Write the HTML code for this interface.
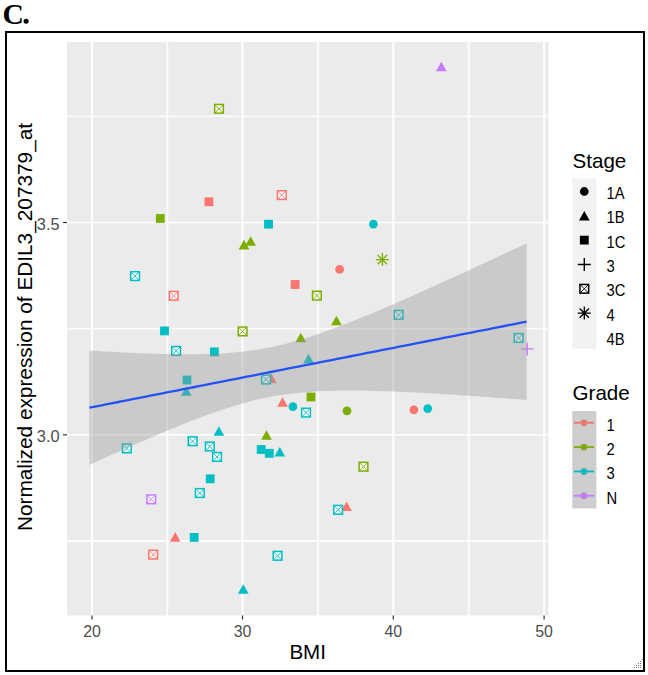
<!DOCTYPE html>
<html><head><meta charset="utf-8"><style>
html,body{margin:0;padding:0;background:#fff;width:648px;height:675px;overflow:hidden}
svg{display:block}
text{font-family:"Liberation Sans",sans-serif}
.tk{font-size:16.4px;fill:#4D4D4D}
.ti{font-size:20.6px;fill:#000}
.lg{font-size:16.4px;fill:#000}
.C{font-family:"Liberation Serif",serif;font-weight:bold;font-size:29px;fill:#000}
</style></head><body>
<svg width="648" height="675" viewBox="0 0 648 675">
<rect x="67" y="42" width="481.5" height="573.5" fill="#EBEBEB"/>
<line x1="167.3" y1="42" x2="167.3" y2="615.5" stroke="#FCFCFC" stroke-width="1.9"/>
<line x1="318" y1="42" x2="318" y2="615.5" stroke="#FCFCFC" stroke-width="1.9"/>
<line x1="468.7" y1="42" x2="468.7" y2="615.5" stroke="#FCFCFC" stroke-width="1.9"/>
<line x1="67" y1="541" x2="548.5" y2="541" stroke="#FCFCFC" stroke-width="1.8"/>
<line x1="67" y1="328.6" x2="548.5" y2="328.6" stroke="#FCFCFC" stroke-width="1.8"/>
<line x1="67" y1="116.3" x2="548.5" y2="116.3" stroke="#FCFCFC" stroke-width="1.8"/>
<line x1="92" y1="42" x2="92" y2="615.5" stroke="#FFFFFF" stroke-width="2"/>
<line x1="242.5" y1="42" x2="242.5" y2="615.5" stroke="#FFFFFF" stroke-width="2"/>
<line x1="393.3" y1="42" x2="393.3" y2="615.5" stroke="#FFFFFF" stroke-width="2"/>
<line x1="544.1" y1="42" x2="544.1" y2="615.5" stroke="#FFFFFF" stroke-width="2"/>
<line x1="67" y1="434.8" x2="548.5" y2="434.8" stroke="#FFFFFF" stroke-width="1.6"/>
<line x1="67" y1="222.5" x2="548.5" y2="222.5" stroke="#FFFFFF" stroke-width="1.6"/>
<polygon points="441.35,61.70 446.70,71.30 436.00,71.30" fill="#C77CFF"/>
<rect x="214.65" y="104.45" width="8.7" height="8.7" fill="#FAFAFA" stroke="#7CAE00" stroke-width="1.5"/><path d="M214.65 104.45L223.35 113.15M223.35 104.45L214.65 113.15" stroke="#7CAE00" stroke-width="0.9"/>
<rect x="277.45" y="190.75" width="8.7" height="8.7" fill="#FAFAFA" stroke="#F8766D" stroke-width="1.5"/><path d="M277.45 190.75L286.15 199.45M286.15 190.75L277.45 199.45" stroke="#F8766D" stroke-width="0.9"/>
<rect x="204.50" y="197.40" width="8.8" height="8.8" fill="#F8766D"/>
<rect x="155.90" y="214.10" width="8.8" height="8.8" fill="#7CAE00"/>
<rect x="264.10" y="219.80" width="8.8" height="8.8" fill="#00BFC4"/>
<circle cx="373.4" cy="224.2" r="4.35" fill="#00BFC4"/>
<polygon points="244.0,239.80 249.35,249.40 238.65,249.40" fill="#7CAE00"/>
<polygon points="250.6,236.20 255.95,245.80 245.25,245.80" fill="#7CAE00"/>
<path d="M375.9 259.6H388.9M382.4 253.10000000000002V266.1M377.72 254.92L387.08 264.28M387.08 254.92L377.72 264.28" stroke="#7CAE00" stroke-width="1.3" fill="none"/>
<rect x="130.75" y="271.75" width="8.7" height="8.7" fill="#FAFAFA" stroke="#00BFC4" stroke-width="1.5"/><path d="M130.75 271.75L139.45 280.45M139.45 271.75L130.75 280.45" stroke="#00BFC4" stroke-width="0.9"/>
<circle cx="339.6" cy="269.4" r="4.35" fill="#F8766D"/>
<rect x="290.70" y="280.10" width="8.8" height="8.8" fill="#F8766D"/>
<rect x="169.35" y="291.45" width="8.7" height="8.7" fill="#FAFAFA" stroke="#F8766D" stroke-width="1.5"/><path d="M169.35 291.45L178.05 300.15M178.05 291.45L169.35 300.15" stroke="#F8766D" stroke-width="0.9"/>
<rect x="312.55" y="291.25" width="8.7" height="8.7" fill="#FAFAFA" stroke="#7CAE00" stroke-width="1.5"/><path d="M312.55 291.25L321.25 299.95M321.25 291.25L312.55 299.95" stroke="#7CAE00" stroke-width="0.9"/>
<rect x="394.25" y="310.45" width="8.7" height="8.7" fill="#FAFAFA" stroke="#00BFC4" stroke-width="1.5"/><path d="M394.25 310.45L402.95 319.15M402.95 310.45L394.25 319.15" stroke="#00BFC4" stroke-width="0.9"/>
<polygon points="336.4,315.70 341.75,325.30 331.05,325.30" fill="#7CAE00"/>
<rect x="160.10" y="326.50" width="8.8" height="8.8" fill="#00BFC4"/>
<rect x="238.25" y="327.05" width="8.7" height="8.7" fill="#FAFAFA" stroke="#7CAE00" stroke-width="1.5"/><path d="M238.25 327.05L246.95 335.75M246.95 327.05L238.25 335.75" stroke="#7CAE00" stroke-width="0.9"/>
<polygon points="300.8,332.70 306.15,342.30 295.45,342.30" fill="#7CAE00"/>
<rect x="514.25" y="333.65" width="8.7" height="8.7" fill="#FAFAFA" stroke="#00BFC4" stroke-width="1.5"/><path d="M514.25 333.65L522.95 342.35M522.95 333.65L514.25 342.35" stroke="#00BFC4" stroke-width="0.9"/>
<path d="M520.7 348.9H533.7M527.2 342.4V355.4" stroke="#C77CFF" stroke-width="1.4" fill="none"/>
<rect x="171.75" y="346.55" width="8.7" height="8.7" fill="#FAFAFA" stroke="#00BFC4" stroke-width="1.5"/><path d="M171.75 346.55L180.45 355.25M180.45 346.55L171.75 355.25" stroke="#00BFC4" stroke-width="0.9"/>
<rect x="210.00" y="347.50" width="8.8" height="8.8" fill="#00BFC4"/>
<polygon points="308.5,353.70 313.85,363.30 303.15,363.30" fill="#00BFC4"/>
<rect x="182.60" y="375.60" width="8.8" height="8.8" fill="#00BFC4"/>
<polygon points="186.3,386.20 191.65,395.80 180.95,395.80" fill="#00BFC4"/>
<polygon points="271.4,373.60 276.75,383.20 266.05,383.20" fill="#F8766D"/>
<rect x="261.65" y="375.15" width="8.7" height="8.7" fill="#FAFAFA" stroke="#00BFC4" stroke-width="1.5"/><path d="M261.65 375.15L270.35 383.85M270.35 375.15L261.65 383.85" stroke="#00BFC4" stroke-width="0.9"/>
<rect x="306.60" y="392.60" width="8.8" height="8.8" fill="#7CAE00"/>
<polygon points="282.6,397.20 287.95,406.80 277.25,406.80" fill="#F8766D"/>
<circle cx="292.9" cy="406.7" r="4.35" fill="#00BFC4"/>
<rect x="301.65" y="408.25" width="8.7" height="8.7" fill="#FAFAFA" stroke="#00BFC4" stroke-width="1.5"/><path d="M301.65 408.25L310.35 416.95M310.35 408.25L301.65 416.95" stroke="#00BFC4" stroke-width="0.9"/>
<circle cx="347.0" cy="410.9" r="4.35" fill="#7CAE00"/>
<circle cx="413.9" cy="409.9" r="4.35" fill="#F8766D"/>
<circle cx="427.7" cy="408.6" r="4.35" fill="#00BFC4"/>
<polygon points="218.9,426.20 224.25,435.80 213.55,435.80" fill="#00BFC4"/>
<polygon points="266.5,430.20 271.85,439.80 261.15,439.80" fill="#7CAE00"/>
<rect x="188.25" y="436.85" width="8.7" height="8.7" fill="#FAFAFA" stroke="#00BFC4" stroke-width="1.5"/><path d="M188.25 436.85L196.95 445.55M196.95 436.85L188.25 445.55" stroke="#00BFC4" stroke-width="0.9"/>
<rect x="205.45" y="442.15" width="8.7" height="8.7" fill="#FAFAFA" stroke="#00BFC4" stroke-width="1.5"/><path d="M205.45 442.15L214.15 450.85M214.15 442.15L205.45 450.85" stroke="#00BFC4" stroke-width="0.9"/>
<rect x="212.65" y="452.55" width="8.7" height="8.7" fill="#FAFAFA" stroke="#00BFC4" stroke-width="1.5"/><path d="M212.65 452.55L221.35 461.25M221.35 452.55L212.65 461.25" stroke="#00BFC4" stroke-width="0.9"/>
<rect x="122.45" y="444.05" width="8.7" height="8.7" fill="#FAFAFA" stroke="#00BFC4" stroke-width="1.5"/><path d="M122.45 444.05L131.15 452.75M131.15 444.05L122.45 452.75" stroke="#00BFC4" stroke-width="0.9"/>
<rect x="256.80" y="445.10" width="8.8" height="8.8" fill="#00BFC4"/>
<rect x="264.90" y="448.90" width="8.8" height="8.8" fill="#00BFC4"/>
<polygon points="279.8,447.00 285.15,456.60 274.45,456.60" fill="#00BFC4"/>
<rect x="359.15" y="462.35" width="8.7" height="8.7" fill="#FAFAFA" stroke="#7CAE00" stroke-width="1.5"/><path d="M359.15 462.35L367.85 471.05M367.85 462.35L359.15 471.05" stroke="#7CAE00" stroke-width="0.9"/>
<rect x="205.80" y="474.40" width="8.8" height="8.8" fill="#00BFC4"/>
<rect x="195.45" y="488.65" width="8.7" height="8.7" fill="#FAFAFA" stroke="#00BFC4" stroke-width="1.5"/><path d="M195.45 488.65L204.15 497.35M204.15 488.65L195.45 497.35" stroke="#00BFC4" stroke-width="0.9"/>
<rect x="146.85" y="494.95" width="8.7" height="8.7" fill="#FAFAFA" stroke="#C77CFF" stroke-width="1.5"/><path d="M146.85 494.95L155.55 503.65M155.55 494.95L146.85 503.65" stroke="#C77CFF" stroke-width="0.9"/>
<polygon points="346.6,501.50 351.95,511.10 341.25,511.10" fill="#F8766D"/>
<rect x="333.75" y="505.45" width="8.7" height="8.7" fill="#FAFAFA" stroke="#00BFC4" stroke-width="1.5"/><path d="M333.75 505.45L342.45 514.15M342.45 505.45L333.75 514.15" stroke="#00BFC4" stroke-width="0.9"/>
<polygon points="175.2,532.10 180.55,541.70 169.85,541.70" fill="#F8766D"/>
<rect x="189.80" y="533.00" width="8.8" height="8.8" fill="#00BFC4"/>
<rect x="148.85" y="550.25" width="8.7" height="8.7" fill="#FAFAFA" stroke="#F8766D" stroke-width="1.5"/><path d="M148.85 550.25L157.55 558.95M157.55 550.25L148.85 558.95" stroke="#F8766D" stroke-width="0.9"/>
<rect x="273.25" y="551.45" width="8.7" height="8.7" fill="#FAFAFA" stroke="#00BFC4" stroke-width="1.5"/><path d="M273.25 551.45L281.95 560.15M281.95 551.45L273.25 560.15" stroke="#00BFC4" stroke-width="0.9"/>
<polygon points="243.3,584.20 248.65,593.80 237.95,593.80" fill="#00BFC4"/>
<path d="M89.40 350.50 L94.93 350.84 L100.47 351.18 L106.00 351.50 L111.54 351.81 L117.07 352.11 L122.61 352.40 L128.14 352.67 L133.67 352.93 L139.21 353.18 L144.74 353.41 L150.28 353.61 L155.81 353.80 L161.34 353.96 L166.88 354.10 L172.41 354.21 L177.95 354.29 L183.48 354.34 L189.02 354.35 L194.55 354.32 L200.08 354.24 L205.62 354.12 L211.15 353.94 L216.69 353.70 L222.22 353.40 L227.75 353.03 L233.29 352.58 L238.82 352.05 L244.36 351.43 L249.89 350.73 L255.43 349.93 L260.96 349.03 L266.49 348.02 L272.03 346.92 L277.56 345.72 L283.10 344.41 L288.63 343.01 L294.16 341.51 L299.70 339.92 L305.23 338.25 L310.77 336.50 L316.30 334.67 L321.84 332.77 L327.37 330.82 L332.90 328.80 L338.44 326.73 L343.97 324.62 L349.51 322.46 L355.04 320.26 L360.57 318.03 L366.11 315.76 L371.64 313.46 L377.18 311.14 L382.71 308.79 L388.25 306.42 L393.78 304.02 L399.31 301.61 L404.85 299.19 L410.38 296.74 L415.92 294.29 L421.45 291.82 L426.98 289.33 L432.52 286.84 L438.05 284.34 L443.59 281.82 L449.12 279.30 L454.66 276.77 L460.19 274.23 L465.72 271.69 L471.26 269.14 L476.79 266.58 L482.33 264.01 L487.86 261.45 L493.39 258.87 L498.93 256.29 L504.46 253.71 L510.00 251.12 L515.53 248.53 L521.07 245.94 L526.60 243.34 L526.60 399.94 L521.07 399.52 L515.53 399.11 L510.00 398.70 L504.46 398.29 L498.93 397.88 L493.39 397.48 L487.86 397.09 L482.33 396.70 L476.79 396.31 L471.26 395.93 L465.72 395.56 L460.19 395.20 L454.66 394.84 L449.12 394.48 L443.59 394.14 L438.05 393.81 L432.52 393.48 L426.98 393.17 L421.45 392.86 L415.92 392.57 L410.38 392.29 L404.85 392.03 L399.31 391.78 L393.78 391.55 L388.25 391.33 L382.71 391.14 L377.18 390.97 L371.64 390.83 L366.11 390.71 L360.57 390.62 L355.04 390.56 L349.51 390.54 L343.97 390.56 L338.44 390.62 L332.90 390.74 L327.37 390.90 L321.84 391.12 L316.30 391.40 L310.77 391.76 L305.23 392.18 L299.70 392.69 L294.16 393.28 L288.63 393.96 L283.10 394.74 L277.56 395.61 L272.03 396.58 L266.49 397.66 L260.96 398.83 L255.43 400.11 L249.89 401.49 L244.36 402.96 L238.82 404.53 L233.29 406.18 L227.75 407.91 L222.22 409.71 L216.69 411.59 L211.15 413.53 L205.62 415.53 L200.08 417.58 L194.55 419.69 L189.02 421.84 L183.48 424.02 L177.95 426.25 L172.41 428.51 L166.88 430.80 L161.34 433.11 L155.81 435.46 L150.28 437.82 L144.74 440.21 L139.21 442.61 L133.67 445.04 L128.14 447.47 L122.61 449.93 L117.07 452.39 L111.54 454.87 L106.00 457.36 L100.47 459.87 L94.93 462.38 L89.40 464.90Z" fill="#999999" fill-opacity="0.4"/>
<path d="M89.40 407.70 L94.93 406.61 L100.47 405.52 L106.00 404.43 L111.54 403.34 L117.07 402.25 L122.61 401.16 L128.14 400.07 L133.67 398.99 L139.21 397.90 L144.74 396.81 L150.28 395.72 L155.81 394.63 L161.34 393.54 L166.88 392.45 L172.41 391.36 L177.95 390.27 L183.48 389.18 L189.02 388.09 L194.55 387.00 L200.08 385.91 L205.62 384.82 L211.15 383.73 L216.69 382.65 L222.22 381.56 L227.75 380.47 L233.29 379.38 L238.82 378.29 L244.36 377.20 L249.89 376.11 L255.43 375.02 L260.96 373.93 L266.49 372.84 L272.03 371.75 L277.56 370.66 L283.10 369.57 L288.63 368.48 L294.16 367.39 L299.70 366.30 L305.23 365.22 L310.77 364.13 L316.30 363.04 L321.84 361.95 L327.37 360.86 L332.90 359.77 L338.44 358.68 L343.97 357.59 L349.51 356.50 L355.04 355.41 L360.57 354.32 L366.11 353.23 L371.64 352.14 L377.18 351.05 L382.71 349.96 L388.25 348.88 L393.78 347.79 L399.31 346.70 L404.85 345.61 L410.38 344.52 L415.92 343.43 L421.45 342.34 L426.98 341.25 L432.52 340.16 L438.05 339.07 L443.59 337.98 L449.12 336.89 L454.66 335.80 L460.19 334.71 L465.72 333.62 L471.26 332.54 L476.79 331.45 L482.33 330.36 L487.86 329.27 L493.39 328.18 L498.93 327.09 L504.46 326.00 L510.00 324.91 L515.53 323.82 L521.07 322.73 L526.60 321.64" stroke="#2452F6" stroke-width="2.3" fill="none"/>
<line x1="92" y1="615.5" x2="92" y2="619.5" stroke="#333333" stroke-width="1.2"/>
<line x1="242.5" y1="615.5" x2="242.5" y2="619.5" stroke="#333333" stroke-width="1.2"/>
<line x1="393.3" y1="615.5" x2="393.3" y2="619.5" stroke="#333333" stroke-width="1.2"/>
<line x1="544.1" y1="615.5" x2="544.1" y2="619.5" stroke="#333333" stroke-width="1.2"/>
<line x1="63" y1="434.8" x2="67" y2="434.8" stroke="#333333" stroke-width="1.2"/>
<line x1="63" y1="222.5" x2="67" y2="222.5" stroke="#333333" stroke-width="1.2"/>
<text transform="translate(92 637) scale(0.97 1)" text-anchor="middle" class="tk">20</text>
<text transform="translate(242.5 637) scale(0.97 1)" text-anchor="middle" class="tk">30</text>
<text transform="translate(393.3 637) scale(0.97 1)" text-anchor="middle" class="tk">40</text>
<text transform="translate(544.1 637) scale(0.97 1)" text-anchor="middle" class="tk">50</text>
<text transform="translate(59.6 441.9) scale(1 1)" text-anchor="end" class="tk">3.0</text>
<text transform="translate(59.6 229.6) scale(1 1)" text-anchor="end" class="tk">3.5</text>
<text x="307.7" y="659.3" text-anchor="middle" class="ti">BMI</text>
<text transform="translate(32.3 327) rotate(-90)" text-anchor="middle" class="ti" style="font-size:20.8px">Normalized expression of EDIL3_207379_at</text>
<text x="572.5" y="167.8" class="ti">Stage</text>
<rect x="572.3" y="178.5" width="24.0" height="170.3" fill="#F2F2F2"/>
<circle cx="584.3" cy="191.47" r="4.35" fill="#000000"/>
<text transform="translate(606.6 199.05) scale(0.9 1)" class="lg">1A</text>
<polygon points="584.3,210.99 589.65,220.59 578.95,220.59" fill="#000000"/>
<text transform="translate(606.6 223.40) scale(0.9 1)" class="lg">1B</text>
<rect x="579.90" y="235.72" width="8.8" height="8.8" fill="#000000"/>
<text transform="translate(606.6 247.75) scale(0.9 1)" class="lg">1C</text>
<path d="M577.8 264.46H590.8M584.3 257.96V270.96" stroke="#000000" stroke-width="1.4" fill="none"/>
<text transform="translate(606.6 272.10) scale(0.9 1)" class="lg">3</text>
<rect x="579.95" y="284.44" width="8.7" height="8.7" fill="#FAFAFA" stroke="#000000" stroke-width="1.5"/><path d="M579.95 284.44L588.65 293.14M588.65 284.44L579.95 293.14" stroke="#000000" stroke-width="0.9"/>
<text transform="translate(606.6 296.45) scale(0.9 1)" class="lg">3C</text>
<path d="M577.8 313.12H590.8M584.3 306.62V319.62M579.62 308.44L588.98 317.80M588.98 308.44L579.62 317.80" stroke="#000000" stroke-width="1.3" fill="none"/>
<text transform="translate(606.6 320.80) scale(0.9 1)" class="lg">4</text>
<text transform="translate(606.6 345.15) scale(0.9 1)" class="lg">4B</text>
<text x="572.5" y="399.9" class="ti">Grade</text>
<rect x="572.3" y="411.0" width="24.0" height="97.3" fill="#F2F2F2"/>
<circle cx="583.90" cy="422.87" r="3.4" fill="#F8766D"/>
<circle cx="583.90" cy="447.19" r="3.4" fill="#7CAE00"/>
<circle cx="583.90" cy="471.52" r="3.4" fill="#00BFC4"/>
<circle cx="583.90" cy="495.86" r="3.4" fill="#C77CFF"/>
<rect x="572.3" y="411.0" width="24.0" height="97.3" fill="#999999" fill-opacity="0.4"/>
<line x1="573.9" y1="422.77" x2="594.0999999999999" y2="422.77" stroke="#F8766D" stroke-width="1.9"/>
<text transform="translate(606.6 430.8) scale(0.9 1)" class="lg">1</text>
<line x1="573.9" y1="447.10" x2="594.0999999999999" y2="447.10" stroke="#7CAE00" stroke-width="1.9"/>
<text transform="translate(606.6 455.1) scale(0.9 1)" class="lg">2</text>
<line x1="573.9" y1="471.43" x2="594.0999999999999" y2="471.43" stroke="#00BFC4" stroke-width="1.9"/>
<text transform="translate(606.6 479.4) scale(0.9 1)" class="lg">3</text>
<line x1="573.9" y1="495.76" x2="594.0999999999999" y2="495.76" stroke="#C77CFF" stroke-width="1.9"/>
<text transform="translate(606.6 503.8) scale(0.9 1)" class="lg">N</text>
<text transform="translate(2.6 23.6) scale(1.02 1.03)" class="C">C</text><circle cx="26.1" cy="21.3" r="2.5" fill="#000"/>
<rect x="634" y="667" width="1" height="1" fill="#777"/>
<rect x="636" y="667" width="1" height="1" fill="#777"/>
<rect x="638" y="667" width="1" height="1" fill="#777"/>
<rect x="640" y="667" width="1" height="1" fill="#777"/>
<rect x="636" y="665" width="1" height="1" fill="#777"/>
<rect x="638" y="665" width="1" height="1" fill="#777"/>
<rect x="640" y="665" width="1" height="1" fill="#777"/>
<rect x="638" y="663" width="1" height="1" fill="#777"/>
<rect x="640" y="663" width="1" height="1" fill="#777"/>
<rect x="640" y="661" width="1" height="1" fill="#777"/>
<rect x="642" y="659" width="1" height="1" fill="#777"/>
<rect x="6" y="32" width="638" height="639" fill="none" stroke="#000" stroke-width="2"/>
</svg>
</body></html>
